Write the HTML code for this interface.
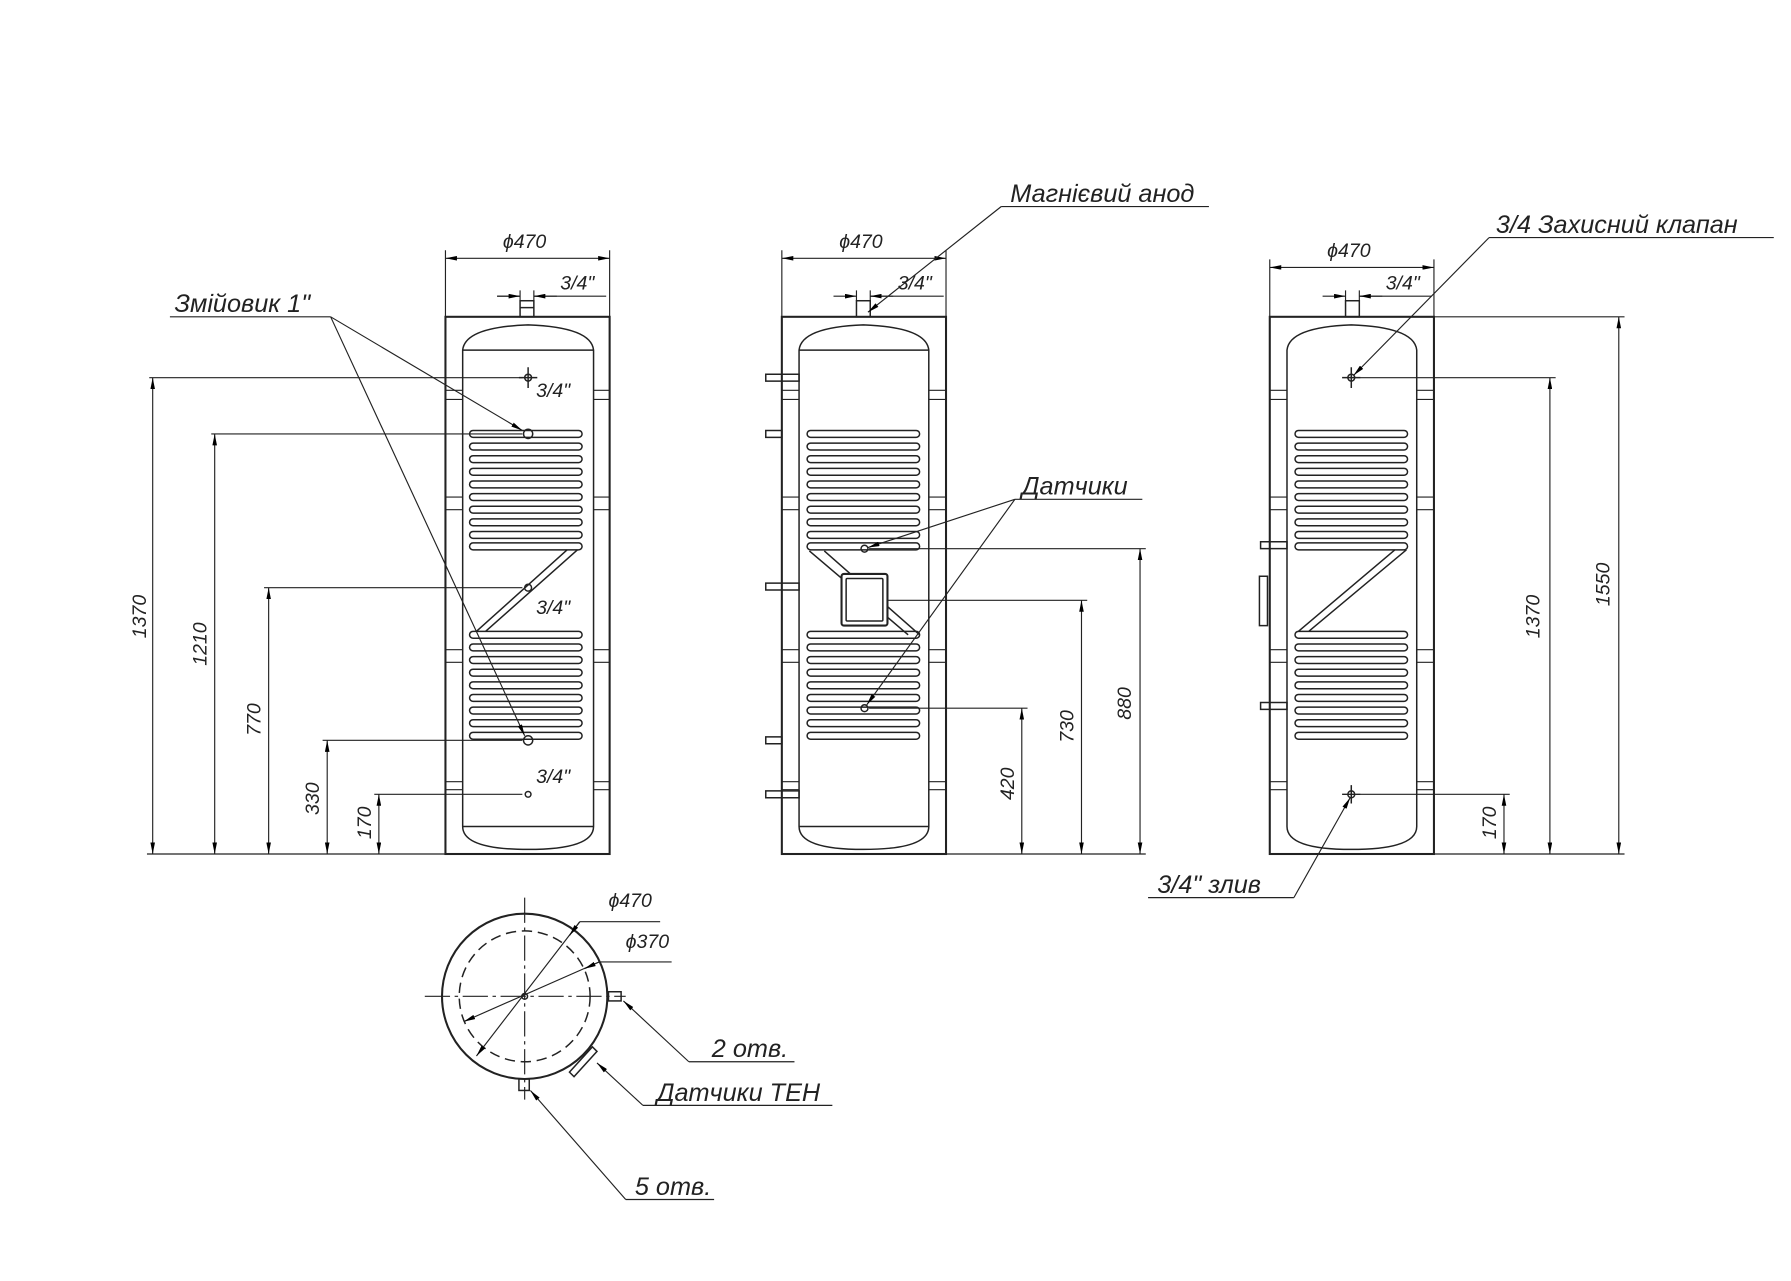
<!DOCTYPE html>
<html><head><meta charset="utf-8"><style>
html,body{margin:0;padding:0;background:#fff}
svg{display:block}
text{font-family:"Liberation Sans",sans-serif;font-style:italic;fill:#222}
.l{font-size:22px}.d{font-size:17px}
</style></head><body>
<svg width="1791" height="1281" viewBox="0 0 1560 1116" preserveAspectRatio="none" xmlns="http://www.w3.org/2000/svg">
<defs>
<marker id="a" viewBox="0 0 10 4" refX="10" refY="2" markerWidth="10" markerHeight="4" markerUnits="userSpaceOnUse" orient="auto-start-reverse"><path d="M0,0L10,2L0,4z" fill="#000"/></marker>
<rect id="lp" x="0" y="-3" width="98" height="6" rx="3" fill="none" stroke="#222" stroke-width="1.3"/>
</defs>
<g fill="none" stroke="#222" stroke-width="1.3">
<!-- LEFT VIEW -->
<rect x="388" y="276" width="143" height="468" stroke-width="1.8"/>
<path d="M403,305 Q405,285 460,283 Q515,285 517,305 L517,720 Q517,740 460,740 Q403,740 403,720 Z"/>
<line x1="403" y1="305" x2="517" y2="305"/><line x1="403" y1="720" x2="517" y2="720"/>
<rect x="453" y="262" width="12" height="14"/><line x1="453" y1="268" x2="465" y2="268"/>
<g stroke-width="1">
<path d="M388,340H403M388,348H403M517,340H531M517,348H531M388,433H403M388,444H403M517,433H531M517,444H531M388,566H403M388,577H403M517,566H531M517,577H531M388,681H403M388,688H403M517,681H531M517,688H531"/>
</g>
<use href="#lp" x="409" y="378"/><use href="#lp" x="409" y="389"/><use href="#lp" x="409" y="400"/><use href="#lp" x="409" y="411"/><use href="#lp" x="409" y="422"/><use href="#lp" x="409" y="433"/><use href="#lp" x="409" y="444"/><use href="#lp" x="409" y="455"/><use href="#lp" x="409" y="466"/><use href="#lp" x="409" y="476"/>
<use href="#lp" x="409" y="553"/><use href="#lp" x="409" y="564"/><use href="#lp" x="409" y="575"/><use href="#lp" x="409" y="586"/><use href="#lp" x="409" y="597"/><use href="#lp" x="409" y="608"/><use href="#lp" x="409" y="619"/><use href="#lp" x="409" y="630"/><use href="#lp" x="409" y="641"/>
<path d="M494,479L415,550M503,479L423,550"/>
<circle cx="460" cy="329" r="3"/><path d="M460,320V338M452,329H468"/>
<circle cx="460" cy="378" r="4"/><circle cx="460" cy="512" r="3"/><circle cx="460" cy="645" r="4"/><circle cx="460" cy="692" r="2.5"/>
<g stroke-width="1">
<path d="M388,218V276M531,218V276"/>
<line x1="388" y1="225" x2="531" y2="225" marker-start="url(#a)" marker-end="url(#a)"/>
<path d="M453,253V262M465,253V262M433,258H453M465,258H528"/>
<line x1="433" y1="258" x2="453" y2="258" marker-end="url(#a)"/><line x1="485" y1="258" x2="465" y2="258" marker-end="url(#a)"/>
<path d="M128,744H388M130,329H455M184,378H455M230,512H455M281,645H455M326,692H455"/>
<line x1="133" y1="744" x2="133" y2="329" marker-start="url(#a)" marker-end="url(#a)"/>
<line x1="187" y1="744" x2="187" y2="378" marker-start="url(#a)" marker-end="url(#a)"/>
<line x1="234" y1="744" x2="234" y2="512" marker-start="url(#a)" marker-end="url(#a)"/>
<line x1="285" y1="744" x2="285" y2="645" marker-start="url(#a)" marker-end="url(#a)"/>
<line x1="330" y1="744" x2="330" y2="692" marker-start="url(#a)" marker-end="url(#a)"/>
<path d="M148,276H288"/>
<line x1="288" y1="276" x2="455" y2="375" marker-end="url(#a)"/>
<line x1="288" y1="276" x2="457" y2="641" marker-end="url(#a)"/>
</g>
<!-- CENTER VIEW -->
<rect x="681" y="276" width="143" height="468" stroke-width="1.8"/>
<path d="M696,305 Q698,285 752,283 Q807,285 809,305 L809,720 Q809,740 752,740 Q696,740 696,720 Z"/>
<line x1="696" y1="305" x2="809" y2="305"/><line x1="696" y1="720" x2="809" y2="720"/>
<rect x="746" y="262" width="12" height="14"/>
<g stroke-width="1">
<path d="M681,340H696M681,348H696M809,340H824M809,348H824M681,433H696M681,444H696M809,433H824M809,444H824M681,566H696M681,577H696M809,566H824M809,577H824M681,681H696M681,688H696M809,681H824M809,688H824"/>
</g>
<path d="M667,326H696V332H667ZM667,375H681V381H667ZM667,508H696V514H667ZM667,642H681V648H667ZM667,689H696V695H667Z"/>
<use href="#lp" x="703" y="378"/><use href="#lp" x="703" y="389"/><use href="#lp" x="703" y="400"/><use href="#lp" x="703" y="411"/><use href="#lp" x="703" y="422"/><use href="#lp" x="703" y="433"/><use href="#lp" x="703" y="444"/><use href="#lp" x="703" y="455"/><use href="#lp" x="703" y="466"/><use href="#lp" x="703" y="476"/>
<use href="#lp" x="703" y="553"/><use href="#lp" x="703" y="564"/><use href="#lp" x="703" y="575"/><use href="#lp" x="703" y="586"/><use href="#lp" x="703" y="597"/><use href="#lp" x="703" y="608"/><use href="#lp" x="703" y="619"/><use href="#lp" x="703" y="630"/><use href="#lp" x="703" y="641"/>
<path d="M705,480L791,553M718,480L801,553"/>
<rect x="733" y="500" width="40" height="45" rx="2" fill="#fff" stroke-width="1.8"/><rect x="737" y="504" width="32" height="37" rx="1"/>
<circle cx="753" cy="478" r="3"/><circle cx="753" cy="617" r="3"/>
<g stroke-width="1">
<path d="M681,218V276M824,218V276"/>
<line x1="681" y1="225" x2="824" y2="225" marker-start="url(#a)" marker-end="url(#a)"/>
<path d="M746,253V262M758,253V262M758,258H822"/>
<line x1="726" y1="258" x2="746" y2="258" marker-end="url(#a)"/><line x1="778" y1="258" x2="758" y2="258" marker-end="url(#a)"/>
<path d="M824,744H998M757,478H998M773,523H947M757,617H895"/>
<line x1="993" y1="744" x2="993" y2="478" marker-start="url(#a)" marker-end="url(#a)"/>
<line x1="942" y1="744" x2="942" y2="523" marker-start="url(#a)" marker-end="url(#a)"/>
<line x1="890" y1="744" x2="890" y2="617" marker-start="url(#a)" marker-end="url(#a)"/>
<path d="M872,180H1053M884,435H995"/>
<line x1="872" y1="180" x2="756" y2="272" marker-end="url(#a)"/>
<line x1="884" y1="435" x2="756" y2="477" marker-end="url(#a)"/>
<line x1="884" y1="435" x2="755" y2="614" marker-end="url(#a)"/>
</g>
<!-- RIGHT VIEW -->
<rect x="1106" y="276" width="143" height="468" stroke-width="1.8"/>
<path d="M1121,305 Q1123,285 1177,283 Q1232,285 1234,305 L1234,720 Q1234,740 1177,740 Q1121,740 1121,720 Z"/>
<rect x="1172" y="262" width="12" height="14"/>
<g stroke-width="1">
<path d="M1106,340H1121M1106,348H1121M1234,340H1249M1234,348H1249M1106,433H1121M1106,444H1121M1234,433H1249M1234,444H1249M1106,566H1121M1106,577H1121M1234,566H1249M1234,577H1249M1106,681H1121M1106,688H1121M1234,681H1249M1234,688H1249"/>
</g>
<path d="M1098,472H1121V478H1098ZM1098,612H1121V618H1098ZM1097,502H1104V545H1097Z"/>
<use href="#lp" x="1128" y="378"/><use href="#lp" x="1128" y="389"/><use href="#lp" x="1128" y="400"/><use href="#lp" x="1128" y="411"/><use href="#lp" x="1128" y="422"/><use href="#lp" x="1128" y="433"/><use href="#lp" x="1128" y="444"/><use href="#lp" x="1128" y="455"/><use href="#lp" x="1128" y="466"/><use href="#lp" x="1128" y="476"/>
<use href="#lp" x="1128" y="553"/><use href="#lp" x="1128" y="564"/><use href="#lp" x="1128" y="575"/><use href="#lp" x="1128" y="586"/><use href="#lp" x="1128" y="597"/><use href="#lp" x="1128" y="608"/><use href="#lp" x="1128" y="619"/><use href="#lp" x="1128" y="630"/><use href="#lp" x="1128" y="641"/>
<path d="M1215,479L1131,550M1225,479L1140,550"/>
<circle cx="1177" cy="329" r="3"/><path d="M1177,320V338M1169,329H1185"/>
<circle cx="1177" cy="692" r="3"/><path d="M1177,684V700M1169,692H1185"/>
<g stroke-width="1">
<path d="M1106,226V276M1249,226V276"/>
<line x1="1106" y1="233" x2="1249" y2="233" marker-start="url(#a)" marker-end="url(#a)"/>
<path d="M1172,253V262M1184,253V262M1184,258H1247"/>
<line x1="1152" y1="258" x2="1172" y2="258" marker-end="url(#a)"/><line x1="1204" y1="258" x2="1184" y2="258" marker-end="url(#a)"/>
<path d="M1249,276H1415M1185,329H1355M1185,692H1315M1249,744H1415"/>
<line x1="1410" y1="744" x2="1410" y2="276" marker-start="url(#a)" marker-end="url(#a)"/>
<line x1="1350" y1="744" x2="1350" y2="329" marker-start="url(#a)" marker-end="url(#a)"/>
<line x1="1310" y1="744" x2="1310" y2="692" marker-start="url(#a)" marker-end="url(#a)"/>
<path d="M1297,207H1545M1000,782H1127"/>
<line x1="1297" y1="207" x2="1179" y2="327" marker-end="url(#a)"/>
<line x1="1127" y1="782" x2="1176" y2="695" marker-end="url(#a)"/>
</g>
<!-- TOP VIEW CIRCLE -->
<circle cx="457" cy="868" r="72" stroke-width="1.8"/>
<circle cx="457" cy="868" r="57" stroke-dasharray="9,5"/>
<circle cx="457" cy="868" r="2.5"/>
<path d="M370,868H545M457,782V958" stroke-width="1" stroke-dasharray="22,4,3,4"/>
<rect x="530" y="864" width="11" height="8"/>
<rect x="452" y="940" width="9" height="10"/>
<path d="M496,934L516,912L520,916L500,938Z"/>
<g stroke-width="1">
<line x1="505" y1="803" x2="415" y2="920" marker-end="url(#a)"/>
<line x1="505" y1="803" x2="496" y2="815" marker-end="url(#a)"/>
<path d="M505,803H575M522,838H585M600,925H692M560,963H725M545,1045H622"/>
<line x1="522" y1="838" x2="404" y2="890" marker-end="url(#a)"/>
<line x1="522" y1="838" x2="509" y2="844" marker-end="url(#a)"/>
<line x1="600" y1="925" x2="543" y2="872" marker-end="url(#a)"/>
<line x1="560" y1="963" x2="520" y2="926" marker-end="url(#a)"/>
<line x1="545" y1="1045" x2="462" y2="950" marker-end="url(#a)"/>
</g>
</g>
<!-- TEXT -->
<g class="d">
<text x="438" y="216">ϕ470</text><text x="488" y="252">3/4"</text>
<text x="467" y="346">3/4"</text><text x="467" y="535">3/4"</text><text x="467" y="682">3/4"</text>
<text transform="translate(127,556) rotate(-90)">1370</text>
<text transform="translate(180,580) rotate(-90)">1210</text>
<text transform="translate(227,641) rotate(-90)">770</text>
<text transform="translate(278,710) rotate(-90)">330</text>
<text transform="translate(323,731) rotate(-90)">170</text>
<text x="731" y="216">ϕ470</text><text x="782" y="252">3/4"</text>
<text transform="translate(985,627) rotate(-90)">880</text>
<text transform="translate(935,647) rotate(-90)">730</text>
<text transform="translate(883,697) rotate(-90)">420</text>
<text x="1156" y="224">ϕ470</text><text x="1207" y="252">3/4"</text>
<text transform="translate(1402,528) rotate(-90)">1550</text>
<text transform="translate(1341,556) rotate(-90)">1370</text>
<text transform="translate(1303,731) rotate(-90)">170</text>
<text x="530" y="790">ϕ470</text><text x="545" y="826">ϕ370</text>
</g>
<g class="l">
<text x="152" y="272">Змійовик 1"</text>
<text x="880" y="176">Магнієвий анод</text>
<text x="890" y="431">Датчики</text>
<text x="1303" y="203">3/4 Захисний клапан</text>
<text x="1008" y="778">3/4" злив</text>
<text x="620" y="921">2 отв.</text>
<text x="572" y="959">Датчики ТЕН</text>
<text x="553" y="1041">5 отв.</text>
</g>
</svg>
</body></html>
